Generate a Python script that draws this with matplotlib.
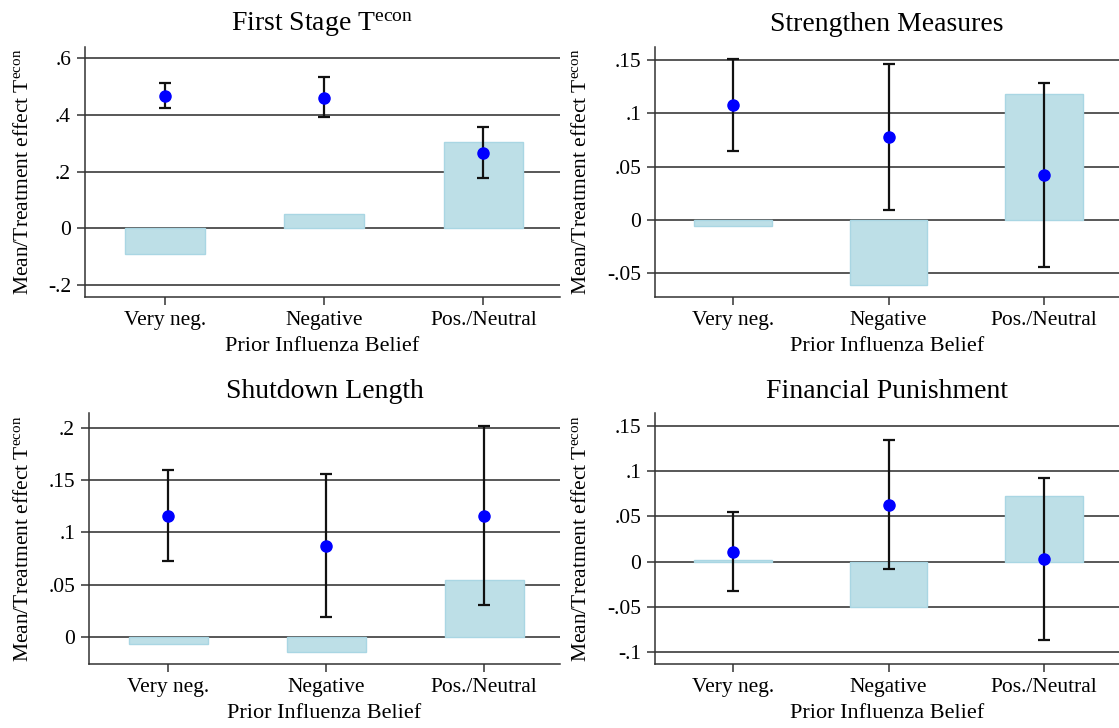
import matplotlib
matplotlib.use("Agg")
import matplotlib.pyplot as plt
import numpy as np

plt.rcParams['font.family'] = ['Liberation Serif', 'DejaVu Serif']
plt.rcParams['mathtext.fontset'] = 'custom'
plt.rcParams['mathtext.rm'] = 'Liberation Serif'
plt.rcParams['mathtext.it'] = 'Liberation Serif:italic'

categories = ["Very neg.", "Negative", "Pos./Neutral"]

titles = ["First Stage T$^{\\rm econ}$", "Strengthen Measures",
          "Shutdown Length", "Financial Punishment"]

# bar = mean, point = treatment effect with CI
bar_means = [
    [-0.092, 0.051, 0.305],
    [-0.006, -0.061, 0.118],
    [-0.007, -0.015, 0.054],
    [0.0015, -0.0505, 0.072],
]
effects = [
    [0.467, 0.461, 0.267],
    [0.108, 0.0775, 0.042],
    [0.116, 0.087, 0.116],
    [0.011, 0.063, 0.003],
]
ci_low = [
    [0.426, 0.392, 0.176],
    [0.065, 0.009, -0.044],
    [0.073, 0.019, 0.030],
    [-0.032, -0.008, -0.087],
]
ci_high = [
    [0.512, 0.533, 0.359],
    [0.151, 0.146, 0.128],
    [0.160, 0.156, 0.202],
    [0.055, 0.134, 0.092],
]
yticks = [
    [-0.2, 0, 0.2, 0.4, 0.6],
    [-0.05, 0, 0.05, 0.1, 0.15],
    [0, 0.05, 0.1, 0.15, 0.2],
    [-0.1, -0.05, 0, 0.05, 0.1, 0.15],
]
yticklabels = [
    ["-.2", "0", ".2", ".4", ".6"],
    ["-.05", "0", ".05", ".1", ".15"],
    ["0", ".05", ".1", ".15", ".2"],
    ["-.1", "-.05", "0", ".05", ".1", ".15"],
]
ylims = [(-0.2435, 0.641), (-0.0725, 0.1625), (-0.0266, 0.2144), (-0.1136, 0.164)]

# left, top, right, bottom in pixels
positions = [
    [85, 46.7, 560, 297.3],
    [655, 46.7, 1119, 297.3],
    [89, 413.3, 560, 664.3],
    [655, 413.3, 1119, 664.3],
]
ylabel_x = [33, 591, 33, 591]

W, H = 1119, 728
fig = plt.figure(figsize=(W / 100, H / 100), dpi=100)

x = np.arange(1, 4)
for i in range(4):
    l, t, r, b = positions[i]
    ax = fig.add_axes([l / W, 1 - b / H, (r - l) / W, (b - t) / H])
    ax.bar(x, bar_means[i], width=0.5, color="#bddfe7", edgecolor="#a9d6e3",
           linewidth=1, zorder=2)
    eff = np.array(effects[i])
    lo = eff - np.array(ci_low[i])
    hi = np.array(ci_high[i]) - eff
    ax.errorbar(x, eff, yerr=[lo, hi], fmt="none", ecolor="#111111",
                elinewidth=1.6, capsize=4, capthick=1.6, zorder=3)
    ax.plot(x, eff, "o", color="#0000ff", markersize=8, zorder=4)
    ax.set_xlim(0.5, 3.48)
    ax.set_ylim(*ylims[i])
    ax.set_yticks(yticks[i])
    ax.set_yticklabels(yticklabels[i])
    ax.set_xticks(x)
    ax.set_xticklabels(categories)
    ax.yaxis.grid(True, color="#2a2a2a", linewidth=1.1, zorder=0)
    ax.set_axisbelow(True)
    for s in ["top", "right"]:
        ax.spines[s].set_visible(False)
    for s in ["left", "bottom"]:
        ax.spines[s].set_color("#333333")
        ax.spines[s].set_linewidth(1.1)
    ax.tick_params(axis="both", labelsize=15.5, length=6, width=1.1,
                   color="#333333", pad=4)
    ax.set_title(titles[i], fontsize=20, pad=11)
    ax.set_xlabel("Prior Influenza Belief", fontsize=16, labelpad=5)
    ax.set_ylabel("Mean/Treatment effect T$^{\\rm econ}$", fontsize=15.5)
    ax.yaxis.set_label_coords((ylabel_x[i] - l) / (r - l), 0.5)

fig.savefig("out.png", dpi=100)
